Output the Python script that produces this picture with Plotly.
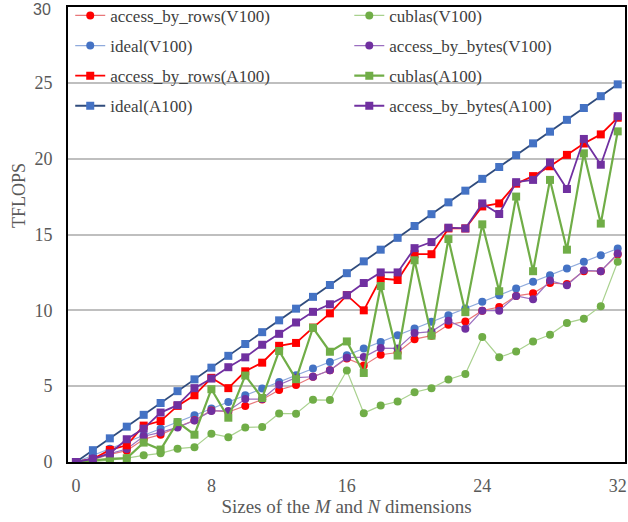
import plotly.graph_objects as go

sizes = list(range(33))

ideal_v100 = [0, 0.44, 0.88, 1.32, 1.76, 2.2, 2.64, 3.08, 3.52, 3.96, 4.4, 4.84, 5.28, 5.72, 6.16, 6.6,
              7.04, 7.48, 7.92, 8.36, 8.8, 9.24, 9.68, 10.12, 10.56, 11.0, 11.44, 11.88, 12.32, 12.76,
              13.2, 13.64, 14.08]
ideal_a100 = [0, 0.78, 1.56, 2.33, 3.11, 3.89, 4.67, 5.45, 6.22, 7.0, 7.78, 8.56, 9.34, 10.11, 10.89,
              11.67, 12.45, 13.23, 14.0, 14.78, 15.56, 16.34, 17.12, 17.89, 18.67, 19.45, 20.23, 21.01,
              21.78, 22.56, 23.34, 24.12, 24.9]
rows_v100 = [0, 0.15, 0.5, 0.75, 1.5, 1.8, 2.3, 2.75, 3.4, 3.3, 3.7, 4.12, 4.75, 5.08, 5.62, 6.05,
             6.83, 6.37, 7.07, 7.22, 8.1, 8.33, 9.05, 9.27, 9.98, 10.22, 10.95, 11.12, 11.8, 11.74,
             12.58, 12.58, 13.68]
bytes_v100 = [0, 0.25, 0.55, 0.86, 1.7, 1.95, 2.28, 2.74, 3.37, 3.37, 4.15, 4.15, 5.09, 5.56, 5.62,
              6.05, 6.88, 6.92, 7.51, 7.49, 8.5, 8.6, 9.32, 8.79, 9.98, 9.98, 10.95, 10.73, 11.96,
              11.65, 12.64, 12.58, 13.74]
cublas_v100 = [0, 0.02, 0.13, 0.25, 0.44, 0.57, 0.88, 0.98, 1.87, 1.64, 2.28, 2.31, 3.2, 3.18, 4.1,
               4.08, 6.03, 3.22, 3.72, 3.99, 4.6, 4.87, 5.44, 5.8, 8.24, 6.91, 7.29, 7.95, 8.39, 9.17,
               9.45, 10.27, 13.2]
rows_a100 = [0, 0.2, 0.8, 1.1, 2.4, 2.7, 3.7, 4.4, 5.55, 4.87, 5.98, 6.55, 7.66, 7.85, 8.86, 9.8,
             11.0, 10.0, 12.1, 12.0, 13.7, 13.7, 15.4, 15.4, 16.85, 17.05, 18.35, 18.85, 19.5, 20.25,
             21.0, 21.6, 22.7]
bytes_a100 = [0, 0.2, 0.57, 1.5, 2.2, 3.26, 3.75, 4.87, 5.5, 6.25, 6.9, 7.73, 8.45, 9.2, 9.9, 10.4,
              11.0, 11.8, 12.5, 12.5, 14.1, 14.5, 15.45, 15.4, 17.05, 16.35, 18.45, 18.6, 19.75, 18.0,
              21.3, 19.6, 22.8]
cublas_a100 = [0, 0.1, 0.2, 0.25, 1.28, 0.82, 2.63, 1.8, 4.8, 2.92, 5.7, 4.22, 7.32, 5.46, 8.85, 7.27,
               7.95, 5.87, 11.6, 7.02, 13.3, 8.33, 14.7, 9.88, 15.67, 11.26, 17.5, 12.58, 18.6, 14.0,
               20.35, 15.72, 21.8]

x_ticks = [0, 8, 16, 24, 32]
y_ticks = [0, 5, 10, 15, 20, 25, 30]
y_ticktext = ["0", "5", "10", "15", "20", "25", ""]
top_tick_label = "30"

FONT = "Liberation Serif, Times New Roman, serif"

series = [
    # name, y, marker color, line color, line width, symbol, legend, rank
    ("ideal(V100)", ideal_v100, "#4472C4", "#8FAADC", 1.2, "circle", "legend", 2),
    ("access_by_rows(V100)", rows_v100, "#FF0000", "#E8777A", 1.2, "circle", "legend", 1),
    ("access_by_bytes(V100)", bytes_v100, "#7030A0", "#9B6FC0", 1.2, "circle", "legend2", 2),
    ("cublas(V100)", cublas_v100, "#70AD47", "#A9D18E", 1.2, "circle", "legend2", 1),
    ("ideal(A100)", ideal_a100, "#4472C4", "#2F4B7C", 1.8, "square", "legend", 4),
    ("access_by_rows(A100)", rows_a100, "#FF0000", "#FF0000", 1.8, "square", "legend", 3),
    ("cublas(A100)", cublas_a100, "#70AD47", "#70AD47", 2.2, "square", "legend2", 3),
    ("access_by_bytes(A100)", bytes_a100, "#7030A0", "#7030A0", 1.8, "square", "legend2", 4),
]

fig = go.Figure()
for name, ys, mc, lc, lw, sym, leg, rank in series:
    fig.add_trace(go.Scatter(
        x=sizes, y=ys, name=name, mode="lines+markers",
        line=dict(color=lc, width=lw),
        marker=dict(color=mc, size=8, symbol=sym, line=dict(width=0)),
        legend=leg, legendgroup=name, legendrank=rank,
    ))

legend_common = dict(
    font=dict(family=FONT, size=17, color="#404040"),
    bgcolor="rgba(0,0,0,0)", borderwidth=0,
    yanchor="top", y=1.02, xanchor="left",
    tracegroupgap=5, orientation="v",
)

fig.update_layout(
    width=628, height=522,
    margin=dict(l=68, r=3, t=7, b=60, autoexpand=False),
    paper_bgcolor="white", plot_bgcolor="white",
    font=dict(family=FONT, size=18, color="#595959"),
    legend=dict(x=0.004, **legend_common),
    legend2=dict(x=0.505, **legend_common),
    xaxis=dict(
        range=[-0.47, 32.43], tickvals=x_ticks, automargin=False,
        showgrid=False, zeroline=False,
        showline=True, linecolor="black", linewidth=2, mirror=True,
        ticks="", ticklabelstandoff=6,
        tickfont=dict(family=FONT, size=18, color="#595959"),
        title=dict(text="Sizes of the <i>M</i> and <i>N</i> dimensions",
                   font=dict(family=FONT, size=19, color="#595959"), standoff=4),
    ),
    yaxis=dict(
        range=[0, 30], tickvals=y_ticks, ticktext=y_ticktext, automargin=False,
        showgrid=True, gridcolor="#BFBFBF", gridwidth=1.5, zeroline=False,
        showline=True, linecolor="black", linewidth=2, mirror=True,
        ticks="", ticklabelstandoff=10,
        tickfont=dict(family=FONT, size=18, color="#595959"),
    ),
    annotations=[
        dict(text="TFLOPS", textangle=-90, xref="paper", yref="paper",
             x=-0.088, y=0.587, xanchor="center", yanchor="middle", showarrow=False,
             font=dict(family=FONT, size=18, color="#595959")),
        dict(text=top_tick_label, xref="paper", yref="paper",
             x=-0.0287, y=0.9956, xanchor="right", yanchor="middle", showarrow=False,
             borderpad=0,
             font=dict(family="Liberation Sans, Arial, sans-serif", size=16, color="#595959")),
    ],
)

fig.write_html("out.html")
